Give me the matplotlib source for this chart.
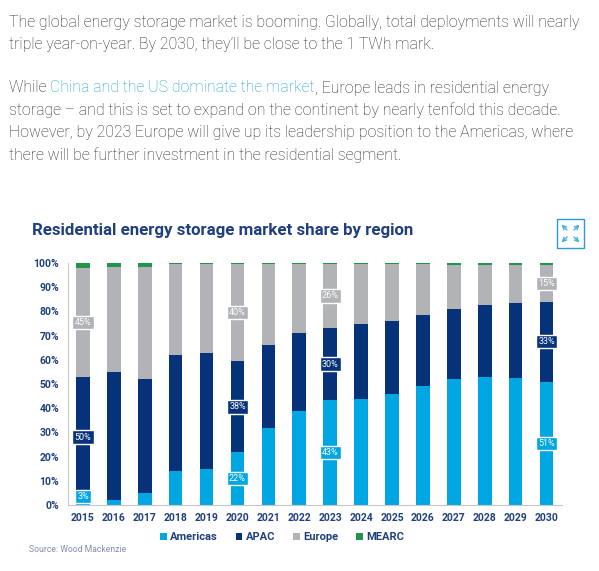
import matplotlib.pyplot as plt
import numpy as np
from matplotlib.patches import Rectangle, FancyArrowPatch

years = [str(y) for y in range(2015, 2031)]
americas = [3, 2, 5, 14, 15, 21.7, 32, 39, 43.2, 44, 46, 49, 52, 53, 52.3, 51]
apac = [50, 53, 47, 48, 48, 37.8, 34, 32, 30.1, 31, 30, 29.5, 29, 29.5, 31, 33]
europe = [45, 43.5, 46.5, 37.5, 36.5, 40, 33.5, 28.5, 26.2, 24.5, 23.5, 21, 18.2, 16.7, 15.9, 15]
mearc = [2, 1.5, 1.5, 0.5, 0.5, 0.5, 0.5, 0.5, 0.5, 0.5, 0.5, 0.5, 0.8, 0.8, 0.8, 1]
regions = ["Americas", "APAC", "Europe", "MEARC"]
labelled_years = ["2015", "2020", "2023", "2030"]

colors = ["#00A6E2", "#06327A", "#B1B3B6", "#21964A"]
navy = "#1F3F7E"
W, H = 599, 571

plt.rcParams["font.family"] = ["Roboto", "DejaVu Sans"]
fig = plt.figure(figsize=(W / 100, H / 100), dpi=100)


def fx(px):
    return px / W


def fy(py):
    return 1 - py / H


# paragraph text above the chart (baseline positions in pixels)
body = "#2A2A2A"
link = "#1FA2CF"
para = [
    (27, [("The global energy storage market is booming. Globally, total deployments will nearly", body)]),
    (49.5, [("triple year-on-year. By 2030, they\u2019ll be close to the 1 TWh mark.", body)]),
    (92.5, [("While ", body), ("China and the US dominate the market", link),
            (", Europe leads in residential energy", body)]),
    (115, [("storage \u2013 and this is set to expand on the continent by nearly tenfold this decade.", body)]),
    (137.5, [("However, by 2023 Europe will give up its leadership position to the Americas, where", body)]),
    (160, [("there will be further investment in the residential segment.", body)]),
]
renderer = fig.canvas.get_renderer()
for ypix, parts in para:
    x = 9
    for txt, col in parts:
        t = fig.text(fx(x), fy(ypix), txt, color=col, fontsize=11.45, fontweight="light",
                     va="baseline", ha="left")
        x += t.get_window_extent(renderer).width

# chart title
fig.text(fx(32), fy(230), "Residential energy storage market share by region",
         color=navy, fontsize=12.2, fontweight="bold", va="center", ha="left")

# expand icon
icon_col = "#2A9BD3"
fig.add_artist(Rectangle((fx(557), fy(248)), fx(27), 29 / H, transform=fig.transFigure,
                         fill=False, edgecolor=icon_col, linewidth=1))
cx, cy = 570.5, 233.5
for dx, dy in [(-1, -1), (1, -1), (-1, 1), (1, 1)]:
    fig.add_artist(FancyArrowPatch((fx(cx + dx * 3.5), fy(cy + dy * 3.5)), (fx(cx + dx * 9), fy(cy + dy * 9)),
                                   transform=fig.transFigure, arrowstyle="->", color="#4AAEE0",
                                   lw=1.0, mutation_scale=7, shrinkA=0, shrinkB=0))

ax = fig.add_axes([fx(67.5), 1 - 505 / H, (562 - 67.5) / W, 242 / H])
x = np.arange(len(years))
bottom = np.zeros(len(years))
series = [americas, apac, europe, mearc]
for name, vals, col in zip(regions, series, colors):
    vals = np.array(vals)
    ax.bar(x, vals, width=0.44, bottom=bottom, color=col, label=name)
    if name != "MEARC":
        for i, yr in enumerate(years):
            if yr in labelled_years:
                mid = max(bottom[i] + vals[i] / 2, 3.6)
                ax.text(x[i], mid, f"{vals[i]:.0f}%", ha="center", va="center", color="white",
                        fontsize=6.5,
                        bbox=dict(boxstyle="square,pad=0.25", fc=col, ec="white", lw=1))
    bottom += vals

ax.set_xlim(-0.5, 15.5)
ax.set_ylim(0, 100)
ax.set_xticks(x)
ax.set_xticklabels(years)
ax.set_yticks(range(0, 101, 10))
ax.set_yticklabels([f"{v}%" for v in range(0, 101, 10)])
ax.tick_params(length=0, labelsize=7.5, labelcolor=navy, pad=6)
for lab in ax.get_xticklabels() + ax.get_yticklabels():
    lab.set_fontweight("bold")
for s in ["top", "right"]:
    ax.spines[s].set_visible(False)
for s in ["left", "bottom"]:
    ax.spines[s].set_color("#C8C8C8")

fig.legend(loc="center", bbox_to_anchor=(fx(282), fy(537)), ncol=4, frameon=False,
           handlelength=0.6, handleheight=0.6, handletextpad=0.3, columnspacing=1.6,
           prop=dict(size=8, weight="bold"), labelcolor=navy)

fig.text(fx(29), fy(549), "Source: Wood Mackenzie", color="#8090AA", fontsize=6.2,
         va="center", ha="left")

fig.savefig("out.png", dpi=100)
